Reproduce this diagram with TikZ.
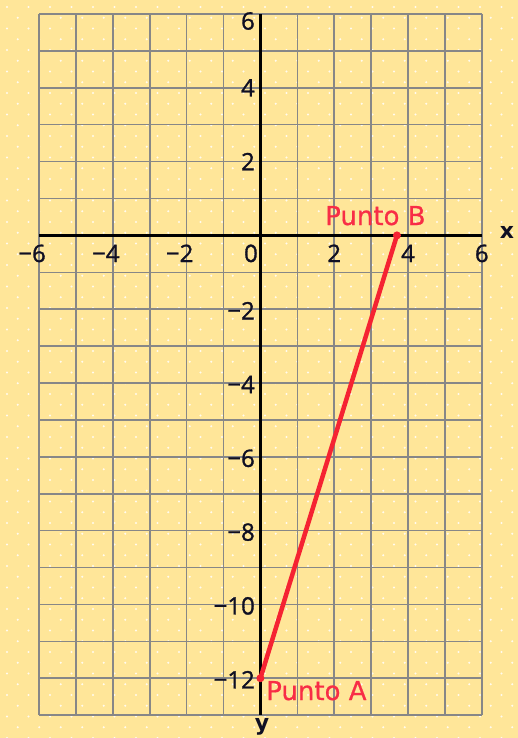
\documentclass[tikz,border=0pt]{standalone}
\usepackage{fontspec}
\setmainfont{DejaVu Sans}
\newfontfamily\numfont[FakeBold=1.2]{Open Sans}
\newfontfamily\labfont[FakeBold=0.6]{DejaVu Sans}
\definecolor{bgyellow}{RGB}{255,230,153}
\definecolor{gridgray}{RGB}{135,135,135}
\definecolor{ptred}{RGB}{245,35,50}
\definecolor{labred}{RGB}{248,45,70}
\definecolor{numcol}{RGB}{15,15,35}
\begin{document}
\begin{tikzpicture}[x=1pt,y=-1pt,
  gridline/.style={draw=gridgray, line width=1.6pt},
  axisline/.style={draw=black, line width=3pt},
  numlab/.style={font=\numfont\fontsize{24}{24}\selectfont, text=numcol, inner sep=0pt},
  axlab/.style={font=\bfseries\fontsize{22}{22}\selectfont, text=numcol, inner sep=0pt},
  ptlab/.style={font=\labfont\fontsize{26}{26}\selectfont, text=labred, inner sep=0pt},
  ptdot/.style={fill=ptred, circle, inner sep=0pt, minimum size=8pt},
  segline/.style={draw=ptred, line width=4.5pt, line cap=round}]
\useasboundingbox (0,0) rectangle (518,738);
\fill[bgyellow] (0,0) rectangle (518,738);
% dotted background
\foreach \i in {0,...,68}{
  \pgfmathsetmacro\yy{7+10.75*\i}
  \pgfmathsetmacro\off{7+mod(\i,2)*10.75}
  \foreach \j in {0,...,24}{
    \fill[white,opacity=0.85] ({\off+21.5*\j},\yy) circle (1.1);
  }
}
% grid
\def\u{36.9}
\foreach \k in {0,...,12}{
  \draw[gridline] ({39+\u*\k},14) -- ({39+\u*\k},715.1);
}
\foreach \k in {0,...,19}{
  \draw[gridline] (39,{14+\u*\k}) -- (482,{14+\u*\k});
}
% axes
\coordinate (xl) at (39,235.4);
\coordinate (xr) at (482,235.4);
\coordinate (yt) at (260.4,14);
\coordinate (yb) at (260.4,715.1);
\draw[axisline] (xl) -- (xr);
\draw[axisline] (yt) -- (yb);
% x tick labels
\node[numlab, anchor=base east] (xm6) at ({260.4-6*\u+7},262) {−6};
\node[numlab, anchor=base east] (xm4) at ({260.4-4*\u+7},262) {−4};
\node[numlab, anchor=base east] (xm2) at ({260.4-2*\u+7},262) {−2};
\node[numlab, anchor=base east] (x0) at (258,262) {0};
\node[numlab, anchor=base] (x2) at ({260.4+2*\u},262) {2};
\node[numlab, anchor=base] (x4) at ({260.4+4*\u},262) {4};
\node[numlab, anchor=base] (x6) at ({260.4+6*\u},262) {6};
% y tick labels
\node[numlab, anchor=east] (y6) at (255,21) {6};
\node[numlab, anchor=east] (y4) at (255,{235.4-4*\u}) {4};
\node[numlab, anchor=east] (y2) at (255,{235.4-2*\u}) {2};
\foreach \v/\n in {2/ym2,4/ym4,6/ym6,8/ym8,10/ym10,12/ym12}{
  \node[numlab, anchor=east] (\n) at (255,{235.4+\v*\u+1.5}) {−\v};
}
% axis names
\node[axlab] (xname) at (507,232) {x};
\node[axlab, anchor=north] (yname) at (262,718) {y};
% points and segment
\node[ptdot] (A) at (260.4,{235.4+12*\u}) {};
\node[ptdot] (B) at ({260.4+3.7*\u},235.4) {};
\draw[segline] (A.center) -- (B.center);
\node[ptlab, anchor=base west] (labB) at (325,225) {Punto B};
\node[ptlab, anchor=base west] (labA) at (266,700) {Punto A};
\end{tikzpicture}
\end{document}
